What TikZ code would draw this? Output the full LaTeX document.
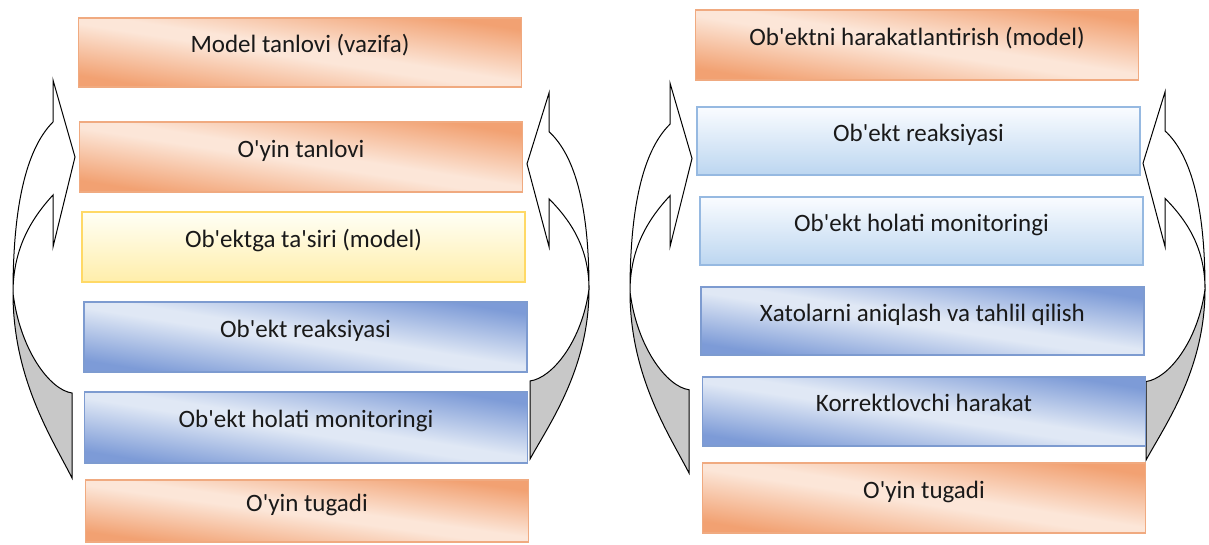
\documentclass[tikz,border=0pt]{standalone}
\usepackage{fontspec}
\setmainfont{Carlito}[Ligatures=TeXOff]
\definecolor{orB}{RGB}{240,170,128}
\definecolor{blB}{RGB}{125,155,208}
\definecolor{lbT}{RGB}{250,252,255}
\definecolor{lbD}{RGB}{188,214,240}
\definecolor{lbB}{RGB}{150,185,225}
\definecolor{yeT}{RGB}{255,255,246}
\definecolor{yeD}{RGB}{255,238,170}
\definecolor{yeB}{RGB}{255,217,102}
\definecolor{arrgray}{RGB}{200,200,200}
\definecolor{txt}{RGB}{25,25,25}
\pgfdeclarefunctionalshading{orshade}{\pgfpointorigin}{\pgfpoint{100bp}{100bp}}{}{
  add 200 div 0.5 sub abs 4 mul 0.08 sub 0.75 div
  dup 0 lt {pop 0} if dup 1 gt {pop 1} if
  dup dup
  -0.400 mul 0.847 add 3 1 roll
  -0.270 mul 0.902 add 3 1 roll
  -0.040 mul 0.988 add 3 1 roll
}
\pgfdeclarefunctionalshading{blshade}{\pgfpointorigin}{\pgfpoint{100bp}{100bp}}{}{
  add 200 div 0.5 sub abs 4 mul 0.08 sub 0.75 div
  dup 0 lt {pop 0} if dup 1 gt {pop 1} if
  dup dup
  -0.118 mul 0.961 add 3 1 roll
  -0.302 mul 0.910 add 3 1 roll
  -0.388 mul 0.878 add 3 1 roll
}
\tikzset{
  box/.style={rectangle, minimum width=443pt, minimum height=70pt, inner sep=0pt, line width=1.3pt, text=txt,
    font=\fontsize{25}{30}\selectfont, text height=9pt, text depth=9pt},
  orbox/.style={box, draw=orB, shading=orshade},
  blbox/.style={box, draw=blB, shading=blshade},
  lbbox/.style={box, draw=lbB, top color=lbT, bottom color=lbD},
  yebox/.style={box, draw=yeB, top color=yeT, bottom color=yeD},
  twarrow/.pic={
    \filldraw[fill=white, draw=black, line width=1pt, line join=miter]
      (0,42) -- (0,0) -- (22,77) -- (0,167) -- (0,115)
      .. controls (-23,140) and (-40,170) .. (-40,213)
      .. controls (-40,130) and (-28,70) .. (0,42) -- cycle;
    \filldraw[fill=arrgray, draw=black, line width=1pt]
      (-40,213) .. controls (-40,300) and (0,360) .. (19,398)
      -- (19,313) .. controls (-3,310) and (-33,270) .. (-40,213) -- cycle;
  }
}
\begin{document}
\begin{tikzpicture}[x=1pt,y=-1pt]
\useasboundingbox (0,0) rectangle (1209,544);
\fill[white] (0,0) rectangle (1209,544);
% arrows
\pic at (53,80) {twarrow};
\pic[xscale=-1, yscale=0.92] at (549,93) {twarrow};
\pic[yscale=0.98] at (670,83) {twarrow};
\pic[xscale=-1, yscale=0.925] at (1165,92) {twarrow};
% left column
\node[orbox, minimum height=69pt] (l1) at (300,52.5) {Model tanlovi (vazifa)};
\node[orbox] (l2) at (301,157) {O'yin tanlovi};
\node[yebox] (l3) at (303.5,247) {Ob'ektga ta'siri (model)};
\node[blbox] (l4) at (305.5,337) {Ob'ekt reaksiyasi};
\node[blbox, minimum height=71pt] (l5) at (306,427.5) {Ob'ekt holati monitoringi};
\node[orbox, minimum height=62pt] (l6) at (307,511) {O'yin tugadi};
% right column
\node[orbox] (r1) at (917,45) {Ob'ektni harakatlantirish (model)};
\node[lbbox, minimum height=68pt] (r2) at (918.5,141) {Ob'ekt reaksiyasi};
\node[lbbox, minimum height=68pt] (r3) at (921.5,231) {Ob'ekt holati monitoringi};
\node[blbox, minimum height=68pt] (r4) at (922.5,321) {Xatolarni aniqlash va tahlil qilish};
\node[blbox, minimum height=69pt] (r5) at (924,411.5) {Korrektlovchi harakat};
\node[orbox] (r6) at (924,498) {O'yin tugadi};
\end{tikzpicture}
\end{document}
